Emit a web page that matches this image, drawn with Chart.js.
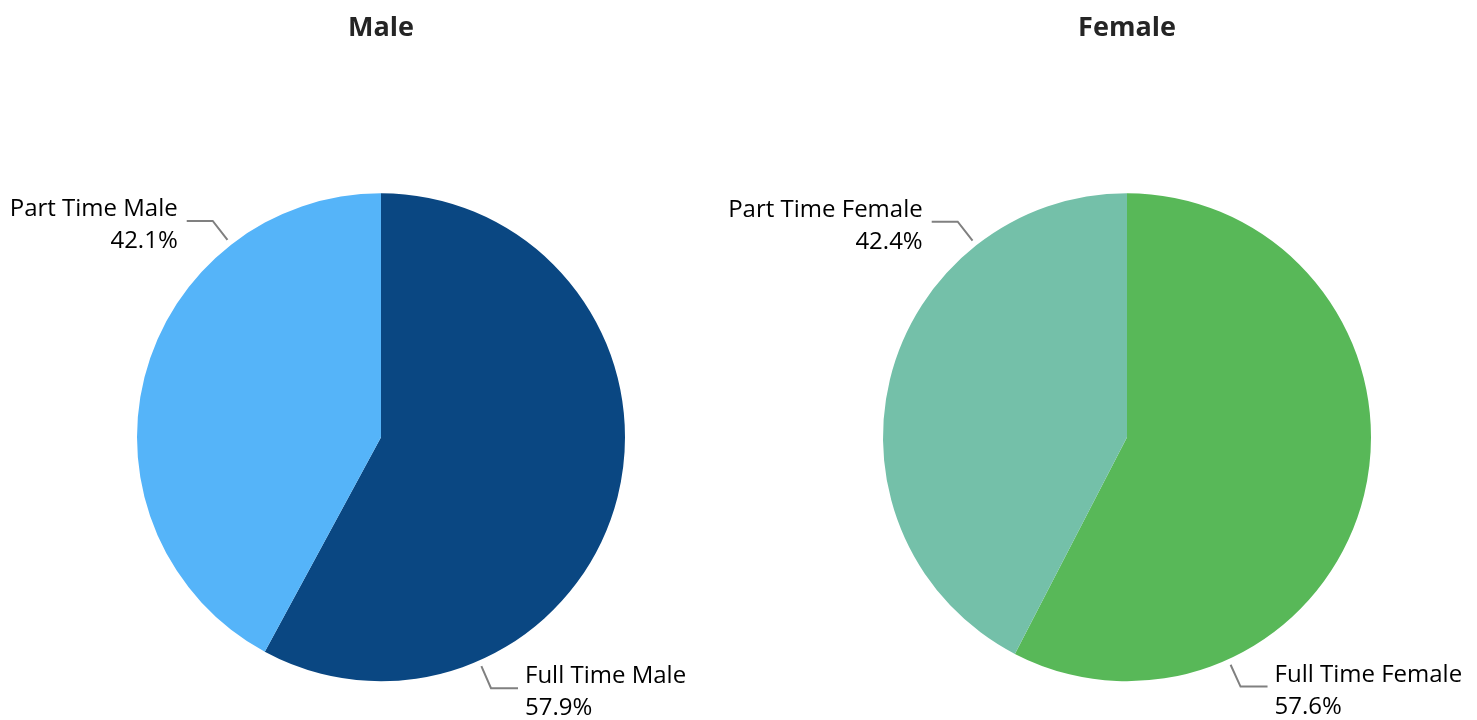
<!DOCTYPE html>
<html>
<head>
    <title>Male / Female</title>
    <script src="https://cdn.jsdelivr.net/npm/chart.js@4/dist/chart.umd.min.js"></script>
    <style>
        body { margin: 0; background: #fff; overflow: hidden; }
        .box { position: absolute; top: 0; left: 0; width: 1477px; height: 720px; }
    </style>
</head>
<body>
    <div class="box"><canvas id="maleChart"></canvas></div>
    <div class="box"><canvas id="femaleChart"></canvas></div>

    <script>
        var maleLabels = ['Full Time Male', 'Part Time Male'];
        var maleValues = [57.9, 42.1];
        var maleColors = ['#0A4782', '#55B4F9'];

        var femaleLabels = ['Full Time Female', 'Part Time Female'];
        var femaleValues = [57.6, 42.4];
        var femaleColors = ['#58B858', '#74C0A9'];

        var FONT = "'Segoe UI', 'Open Sans', sans-serif";

        // leader lines + two-line labels, anchored 3/4 of the way through each slice
        var leaderLabels = {
            id: 'leaderLabels',
            afterDraw: function(chart) {
                var ctx = chart.ctx;
                var meta = chart.getDatasetMeta(0);
                var data = chart.data.datasets[0].data;
                var total = data.reduce(function(a, b) { return a + b; }, 0);
                ctx.save();
                meta.data.forEach(function(arc, i) {
                    var p = arc.getProps(['x', 'y', 'startAngle', 'endAngle', 'outerRadius'], true);
                    var a = p.startAngle + (p.endAngle - p.startAngle) * 0.75;
                    var cos = Math.cos(a), sin = Math.sin(a);
                    var x1 = p.x + cos * (p.outerRadius + 6), y1 = p.y + sin * (p.outerRadius + 6);
                    var x2 = p.x + cos * (p.outerRadius + 30), y2 = p.y + sin * (p.outerRadius + 30);
                    var right = cos >= 0;
                    var x3 = x2 + (right ? 27 : -26);
                    ctx.strokeStyle = '#808080';
                    ctx.lineWidth = 2;
                    ctx.beginPath();
                    ctx.moveTo(x1, y1);
                    ctx.lineTo(x2, y2);
                    ctx.lineTo(x3, y2);
                    ctx.stroke();
                    ctx.fillStyle = '#000';
                    ctx.font = '24px ' + FONT;
                    ctx.textAlign = right ? 'left' : 'right';
                    ctx.textBaseline = 'alphabetic';
                    var tx = x3 + (right ? 7 : -9);
                    ctx.fillText(chart.data.labels[i], tx, y2 - 5);
                    ctx.fillText((data[i] / total * 100).toFixed(1) + '%', tx, y2 + 27);
                });
                ctx.restore();
            }
        };

        function makePie(id, title, labels, values, colors, pad) {
            return new Chart(document.getElementById(id), {
                type: 'pie',
                data: {
                    labels: labels,
                    datasets: [{
                        data: values,
                        backgroundColor: colors,
                        borderWidth: 0,
                        radius: 244
                    }]
                },
                options: {
                    responsive: true,
                    maintainAspectRatio: false,
                    animation: false,
                    layout: { padding: pad },
                    plugins: {
                        legend: { display: false },
                        tooltip: { enabled: false },
                        title: {
                            display: true,
                            text: title,
                            color: '#252525',
                            font: { family: FONT, size: 27, weight: 'bold', lineHeight: 1.2 },
                            padding: { top: 12, bottom: 110 }
                        }
                    }
                },
                plugins: [leaderLabels]
            });
        }

        makePie('maleChart', 'Male', maleLabels, maleValues, maleColors, { left: 0, right: 715 });
        makePie('femaleChart', 'Female', femaleLabels, femaleValues, femaleColors, { left: 777, right: 0 });
    </script>
</body>
</html>
